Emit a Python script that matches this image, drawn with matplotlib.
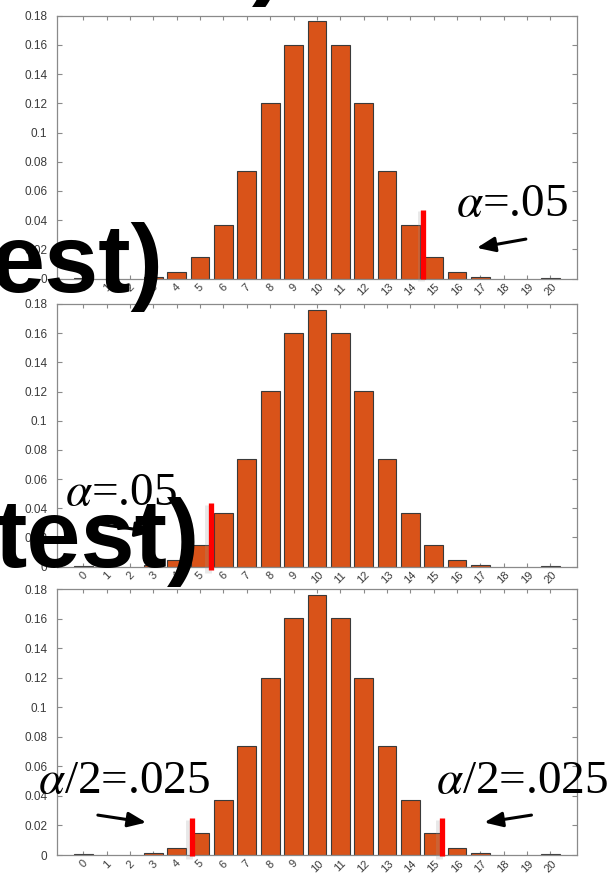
import matplotlib
matplotlib.use("Agg")
import matplotlib.pyplot as plt
from matplotlib.transforms import ScaledTranslation

plt.rcParams["mathtext.fontset"] = "stix"

# Binomial(20, 0.5) probabilities
successes = list(range(21))
prob = [0.0004, 0.0, 0.0, 0.0011, 0.0046, 0.0148, 0.0370, 0.0739, 0.1201, 0.1602,
        0.1762, 0.1602, 0.1201, 0.0739, 0.0370, 0.0148, 0.0046, 0.0011, 0.0, 0.0, 0.0004]
x_labels = [str(k) for k in successes]
y_ticks = [0, 0.02, 0.04, 0.06, 0.08, 0.10, 0.12, 0.14, 0.16, 0.18]
y_labels = ["0", "0.02", "0.04", "0.06", "0.08", "0.1", "0.12", "0.14", "0.16", "0.18"]

# Rejection cut-offs (red markers) for the three tests
cut_x = [[14.56], [5.47], [4.65, 15.35]]
cut_top = [0.047, 0.0433, 0.025]
cut_bottom = [0.0, -0.0025, -0.001]

# Significance labels and their arrows (tail -> tip)
alpha_text = [[r"$\alpha$=.05"], [r"$\alpha$=.05"], [r"$\alpha$/2=.025", r"$\alpha$/2=.025"]]
alpha_pos = [[(15.95, 0.0425)], [(-0.8, 0.042)], [(-1.95, 0.042), (15.1, 0.042)]]
arrow_tail = [[(18.95, 0.027)], [(0.7, 0.029)], [(0.62, 0.027), (19.19, 0.027)]]
arrow_tip = [[(16.85, 0.021)], [(3.0, 0.0237)], [(2.69, 0.022), (17.17, 0.022)]]

W, H = 616, 874
fig = plt.figure(figsize=(W / 100, H / 100), dpi=100)

panel_px = [(15.8, 278.5), (304.0, 566.5), (589.0, 855.0)]
left_px, right_px = 57, 577

BAR = "#D95319"
SPINE = "#8a8a8a"
LABEL = "#3a3a3a"

for i, (top, bot) in enumerate(panel_px):
    ax = fig.add_axes([left_px / W, 1 - bot / H, (right_px - left_px) / W, (bot - top) / H])
    edges = ["#3a3a3a" if p > 0 else "none" for p in prob]
    ax.bar(successes, prob, width=0.8, color=BAR, edgecolor=edges, linewidth=0.8, zorder=2)
    ax.set_xlim(-1.13, 21.14)
    ax.set_ylim(0, 0.18)
    ax.set_yticks(y_ticks)
    ax.set_yticklabels(y_labels, fontsize=8.5, color=LABEL, family="Liberation Sans")
    ax.set_xticks(successes)
    ax.set_xticklabels(x_labels, rotation=45, ha="center", va="top",
                       fontsize=8, color=LABEL, family="Liberation Sans")
    shift = ScaledTranslation(6.5 / 72, 0, fig.dpi_scale_trans)
    for lbl in ax.get_xticklabels():
        lbl.set_transform(lbl.get_transform() + shift)
    ax.tick_params(axis="x", direction="in", top=True, length=2.6, width=0.8,
                   color=SPINE, pad=2.5)
    ax.tick_params(axis="y", direction="in", right=True, length=3.8, width=0.8,
                   color=SPINE, pad=7)
    for s in ax.spines.values():
        s.set_color(SPINE)
        s.set_linewidth(0.9)

    for cx in cut_x[i]:
        ax.plot([cx - 0.12, cx - 0.12], [cut_bottom[i] - 0.002, cut_top[i] - 0.001],
                color="#9a9a9a", alpha=0.22, lw=5.0, solid_capstyle="butt",
                clip_on=False, zorder=3)
        ax.plot([cx, cx], [cut_bottom[i], cut_top[i]], color="#ff0000", lw=3.8,
                solid_capstyle="butt", clip_on=False, zorder=4)

    for txt, pos, tail, tip in zip(alpha_text[i], alpha_pos[i], arrow_tail[i], arrow_tip[i]):
        ax.text(pos[0], pos[1], txt, fontsize=34, family="Liberation Serif",
                ha="left", va="baseline", clip_on=False, zorder=5)
        ax.annotate("", xy=tip, xytext=tail, annotation_clip=False,
                    arrowprops=dict(arrowstyle="-|>,head_length=1.1,head_width=0.45",
                                    color="black", lw=2.2, shrinkA=0, shrinkB=0))

# Large slide-heading fragments overlapping the panels
big = dict(fontsize=70, fontweight="bold", family="Liberation Sans",
           ha="left", va="baseline", color="black", zorder=10)
fig.text(252 / W, 1 + 13 / H, ")", **big)
fig.text(-10 / W, 1 - 292 / H, "est)", **big)
fig.text(-5 / W, 1 - 567 / H, "test)", **big)

fig.savefig("out.png", dpi=100)
